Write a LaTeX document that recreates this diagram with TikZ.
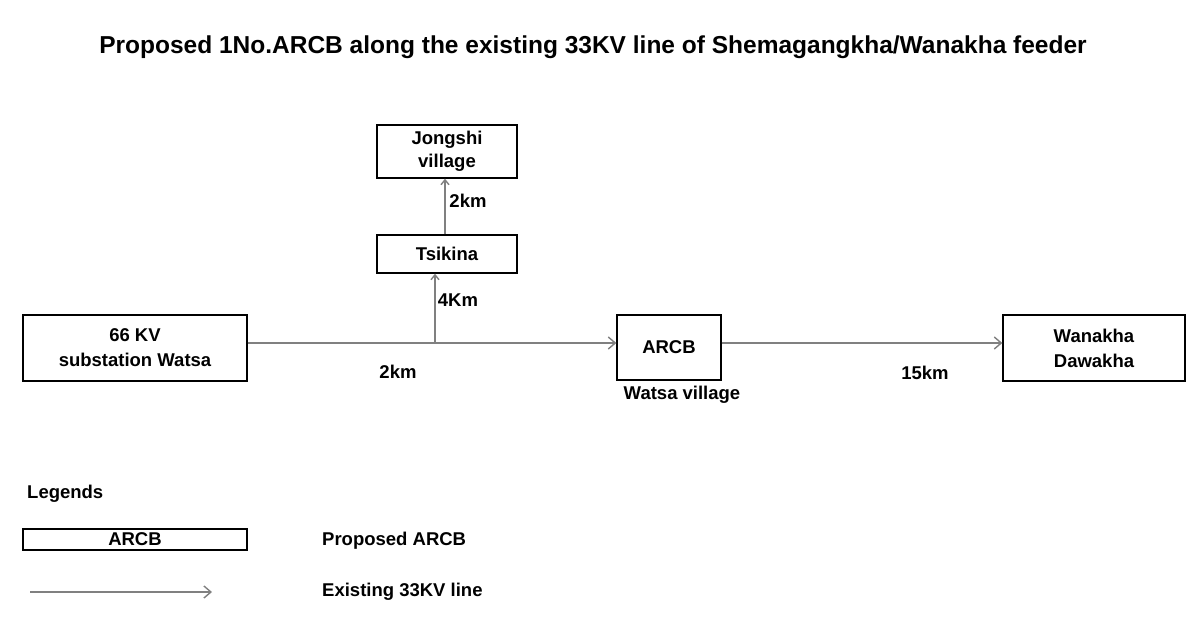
\documentclass[tikz,border=0pt]{standalone}
\usepackage{fontspec}
\setmainfont{Liberation Sans}
\usetikzlibrary{arrows.meta}
\begin{document}
\begin{tikzpicture}[x=1bp,y=-1bp,
  box/.style={draw=black, line width=1.3bp, inner sep=0pt, align=center,
    font=\fontsize{18.5bp}{25bp}\selectfont\bfseries},
  lbl/.style={inner sep=0pt, font=\fontsize{18.5bp}{22bp}\selectfont\bfseries},
  wire/.style={draw=black!50, line width=1.4bp, -{Straight Barb[length=7bp,width=12bp]}}]
\fill[white] (0,0) rectangle (1198,635);
\useasboundingbox (0,0) rectangle (1198,635);
\node[inner sep=0pt, font=\fontsize{24.5bp}{28bp}\selectfont\bfseries] (title) at (593,47)
  {Proposed 1No.ARCB along the existing 33KV line of Shemagangkha/Wanakha feeder};
\node[box, minimum width=224bp, minimum height=66bp] (sub) at (135,348) {66 KV\\substation Watsa};
\node[box, minimum width=140bp, minimum height=53bp, font=\fontsize{18.5bp}{23bp}\selectfont\bfseries] (jong) at (447,151.5) {Jongshi\\village};
\node[box, minimum width=140bp, minimum height=38bp] (tsi) at (447,254) {Tsikina};
\node[box, minimum width=104bp, minimum height=65bp] (arcb) at (669,347.5) {ARCB};
\node[box, minimum width=182bp, minimum height=66bp] (wan) at (1094,348) {Wanakha\\Dawakha};
\coordinate (j) at (435,343);
\coordinate (k) at (445,343);
\draw[wire] (sub.east |- j) -- (arcb.west |- j);
\draw[wire] (arcb.east |- j) -- (wan.west |- j);
\draw[wire, -{Straight Barb[length=5bp,width=8bp]}] (j) -- (j |- tsi.south);
\draw[wire, -{Straight Barb[length=5bp,width=8bp]}] (k |- tsi.north) -- (k |- jong.south);
\node[lbl] (l1) at (398,372) {2km};
\node[lbl] (l2) at (458,300) {4Km};
\node[lbl] (l3) at (468,201) {2km};
\node[lbl] (l4) at (925,373) {15km};
\node[lbl] (l5) at (682,395) {Watsa village};
% legend
\node[lbl, anchor=west] (leg) at (27,494) {Legends};
\node[box, minimum width=224bp, minimum height=21bp] (legbox) at (135,539.5) {ARCB};
\node[lbl, anchor=west] (lt1) at (322,541) {Proposed ARCB};
\coordinate (a1) at (30,592);
\coordinate (a2) at (212,592);
\draw[wire] (a1) -- (a2);
\node[lbl, anchor=west] (lt2) at (322,592) {Existing 33KV line};
\end{tikzpicture}
\end{document}
